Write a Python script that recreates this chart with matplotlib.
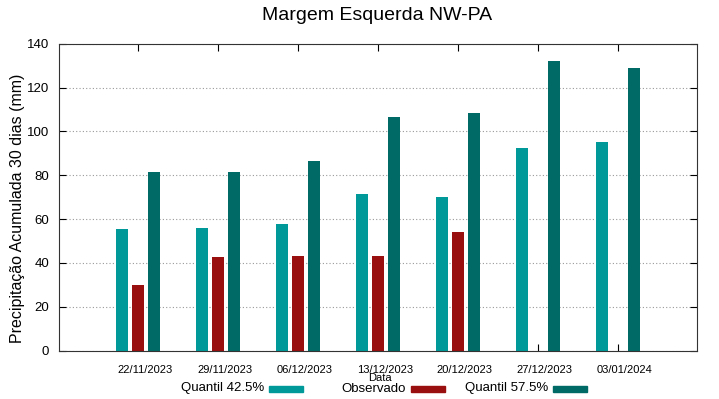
#!/usr/bin/env python3
"""Grouped bars: 30-day accumulated rainfall, Margem Esquerda NW-PA."""
import numpy as np
import matplotlib
matplotlib.use("Agg")
import matplotlib.pyplot as plt
from matplotlib.patches import Rectangle

plt.rcParams["font.family"] = ["Liberation Sans", "DejaVu Sans"]

datas = ["22/11/2023", "29/11/2023", "06/12/2023", "13/12/2023",
         "20/12/2023", "27/12/2023", "03/01/2024"]
q425 = [55.3, 55.8, 57.6, 71.3, 69.9, 92.3, 95.0]
observado = [29.9, 42.6, 43.0, 43.0, 54.0, np.nan, np.nan]
q575 = [81.5, 81.5, 86.6, 106.7, 108.2, 132.2, 128.9]

series = [("Quantil 42.5%", q425, "#009999"),
          ("Observado", observado, "#990e0e"),
          ("Quantil 57.5%", q575, "#006a66")]


def main():
    W, H = 719, 399
    fig = plt.figure(figsize=(W / 100, H / 100), dpi=100)
    ax = fig.add_axes([58.7 / W, 1 - 350.7 / H, (697 - 58.7) / W, (350.7 - 43.7) / H])

    x = np.arange(len(datas))
    width = 0.15
    for i, (lbl, vals, col) in enumerate(series):
        ax.bar(x + (i - 1) * 0.2, vals, width, color=col, label=lbl)

    ax.set_xlim(-0.99, len(datas) - 0.01)
    ax.set_ylim(0, 140)
    ax.set_yticks(range(0, 141, 20))
    # tick marks at the group centre, labels sit a bit to the right (gnuplot look)
    ax.set_xticks(x)
    ax.set_xticklabels([])
    ax.set_xticks(x + 0.0875, minor=True)
    ax.set_xticklabels(datas, minor=True, fontsize=8)
    ax.tick_params(axis="x", which="major", direction="in", top=True, length=5)
    ax.tick_params(axis="x", which="minor", length=0, pad=10)
    ax.tick_params(axis="y", direction="in", right=True, length=5, pad=7,
                   labelsize=9.5)
    ax.yaxis.grid(True, linestyle=(0, (1, 2)), color="#999999", linewidth=0.8)
    ax.set_axisbelow(True)
    for s in ax.spines.values():
        s.set_color("#333333")

    fig.text(377 / W, 1 - 16 / H, "Margem Esquerda NW-PA", ha="center",
             va="center", fontsize=14)
    fig.text(17.5 / W, 1 - 208 / H, "Precipitação Acumulada 30 dias (mm)",
             rotation=90, ha="center", va="center", fontsize=11.5)
    fig.text(380 / W, 1 - 378 / H, "Data", ha="center", va="center", fontsize=8)

    # legend laid out gnuplot-style: right-aligned text, sample after it
    for i, (lbl, vals, col) in enumerate(series):
        tx = 264 + i * 142
        fig.text(tx / W, 1 - 388.5 / H, lbl, ha="right", va="center", fontsize=9.5)
        fig.patches.append(Rectangle(((tx + 5) / W, 1 - 391.5 / H), 34 / W, 6 / H,
                                     transform=fig.transFigure, color=col))

    fig.savefig("out.png", dpi=100)


if __name__ == "__main__":
    main()
